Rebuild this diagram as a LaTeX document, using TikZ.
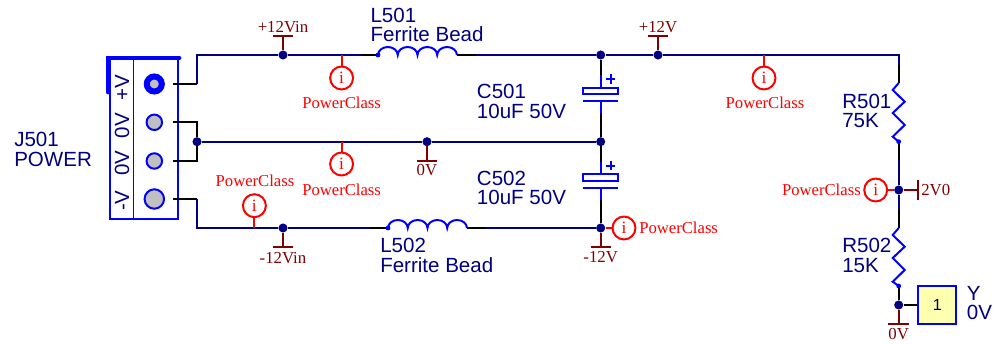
\documentclass[tikz,border=0pt]{standalone}
\usepackage{fontspec}
\usepackage{xcolor}
\setmainfont{Liberation Sans}
\newfontfamily\netfont{Liberation Serif}
\definecolor{wirenavy}{HTML}{000080}
\definecolor{netred}{HTML}{800000}
\definecolor{partblue}{HTML}{0000FF}
\definecolor{padgray}{HTML}{C0C0C0}
\definecolor{boxyellow}{HTML}{FFFFB0}
\tikzset{
    wire/.style={draw=wirenavy, line width=1.5pt},
    stub/.style={draw=black, line width=1.5pt},
    part/.style={draw=partblue, line width=1.5pt},
    netline/.style={draw=netred, line width=1.5pt},
    probeline/.style={draw=red, line width=1.5pt},
    junction/.style={circle, fill=wirenavy, inner sep=0pt, minimum size=6.8pt},
    partdot/.style={circle, fill=partblue, inner sep=0pt, minimum size=3.6pt},
    pad/.style={circle, draw=partblue, fill=padgray, line width=1.5pt, inner sep=0pt},
    probe/.style={circle, draw=red, line width=1.5pt, inner sep=0pt, minimum size=17.2pt, text=red, font=\netfont\fontsize{13}{13}\selectfont},
    partlabel/.style={text=wirenavy, anchor=west, align=left, inner sep=0pt, font=\fontsize{15.4}{14.6}\selectfont},
    netlabel/.style={text=netred, inner sep=0pt, font=\netfont\fontsize{12.6}{13}\selectfont},
    classlabel/.style={text=red, inner sep=0pt, font=\netfont\fontsize{12.5}{13}\selectfont},
    pinlabel/.style={text=wirenavy, rotate=90, inner sep=0pt, font=\fontsize{15.4}{15}\selectfont},
}
\begin{document}
\begin{tikzpicture}[x=0.75pt, y=-0.75pt]
    \useasboundingbox (0,0) rectangle (995,345);

    % connector J501
    \draw[draw=partblue, line width=1.1pt] (110,58) rectangle (178,219);
    \draw[draw=partblue, line width=1.1pt] (133.7,58) -- (133.7,219);
    \draw[draw=partblue, line width=3.6pt, line cap=round] (108,92) -- (108,58) -- (179,58);
    \node[pad, minimum size=11.25pt, line width=4.5pt] (pina) at (154.3,84) {};
    \node[pad, minimum size=11.6pt] (pinb) at (154.3,122.3) {};
    \node[pad, minimum size=11.6pt] (pinc) at (154.3,161) {};
    \node[pad, minimum size=14.6pt] (pind) at (154.3,199) {};
    \node[pinlabel] at (122,88) {+V};
    \node[pinlabel] at (122,125.7) {0V};
    \node[pinlabel] at (122,163) {0V};
    \node[pinlabel] at (122,200.7) {-V};
    \node[partlabel] (jlabel) at (14,149.5) {J501\\POWER};

    % junctions
    \node[junction] (jtopa) at (283,55) {};
    \node[junction] (jtopb) at (600.7,55) {};
    \node[junction] (jtopc) at (658,55) {};
    \node[junction] (jmida) at (197,141.7) {};
    \node[junction] (jmidb) at (427,141.7) {};
    \node[junction] (jmidc) at (600.7,141.7) {};
    \node[junction] (jlowa) at (283,228) {};
    \node[junction] (jlowb) at (600.7,228) {};
    \node[junction] (jdiv) at (898.7,190) {};
    \node[junction] (jout) at (898.7,305) {};

    % pin wiring
    \coordinate (pa) at (173,84);
    \coordinate (pb) at (173,122.3);
    \coordinate (pc) at (173,161);
    \coordinate (pd) at (173,199);
    \coordinate (ca) at (197,84);
    \coordinate (cb) at (197,122.3);
    \coordinate (cc) at (197,161);
    \coordinate (cd) at (197,199);
    \coordinate (topleft) at (197,55);
    \coordinate (lowleft) at (197,228);
    \coordinate (topright) at (898.7,55);
    \draw[stub] (pa) -- (ca);
    \draw[stub] (pb) -- (cb) -- (jmida);
    \draw[stub] (pc) -- (cc) -- (jmida);
    \draw[stub] (pd) -- (cd);
    \draw[wire] (ca) -- (topleft) -- (jtopa);
    \draw[wire] (cd) -- (lowleft) -- (jlowa);

    % L501
    \coordinate (laa) at (360.7,55);
    \coordinate (lab) at (378,55);
    \coordinate (lac) at (457,55);
    \coordinate (lad) at (475.7,55);
    \draw[wire] (jtopa) -- (laa);
    \draw[stub] (laa) -- (lab);
    \draw[part] (lab) arc[start angle=180, end angle=0, x radius=7.4pt, y radius=6pt]
        arc[start angle=180, end angle=0, x radius=7.4pt, y radius=6pt]
        arc[start angle=180, end angle=0, x radius=7.4pt, y radius=6pt]
        arc[start angle=180, end angle=0, x radius=7.4pt, y radius=6pt];
    \node[partdot] (ladot) at (lab) {};
    \draw[stub] (lac) -- (lad);
    \draw[wire] (lad) -- (jtopb);
    \draw[wire] (jtopb) -- (jtopc);
    \node[partlabel] (lalabel) at (370.3,25) {L501\\Ferrite Bead};

    % L502
    \coordinate (lba) at (370,228);
    \coordinate (lbb) at (388,228);
    \coordinate (lbc) at (467,228);
    \coordinate (lbd) at (485,228);
    \draw[wire] (jlowa) -- (lba);
    \draw[stub] (lba) -- (lbb);
    \draw[part] (lbb) arc[start angle=180, end angle=0, x radius=7.4pt, y radius=6pt]
        arc[start angle=180, end angle=0, x radius=7.4pt, y radius=6pt]
        arc[start angle=180, end angle=0, x radius=7.4pt, y radius=6pt]
        arc[start angle=180, end angle=0, x radius=7.4pt, y radius=6pt];
    \node[partdot] (lbdot) at (lbb) {};
    \draw[stub] (lbc) -- (lbd);
    \draw[wire] (lbd) -- (jlowb);
    \node[partlabel] (lblabel) at (380,255.5) {L502\\Ferrite Bead};

    % middle rail
    \draw[wire] (jmida) -- (jmidb);
    \draw[wire] (jmidb) -- (jmidc);

    % C501
    \coordinate (caa) at (600.7,75);
    \coordinate (cab) at (600.7,87.7);
    \coordinate (cac) at (600.7,101);
    \coordinate (cad) at (600.7,113);
    \draw[stub] (jtopb) -- (caa);
    \draw[part] (caa) -- (cab);
    \draw[part] (cac) -- (cad);
    \draw[stub] (cad) -- (jmidc);
    \draw[part] (583,87.7) rectangle (618,94);
    \draw[part] (583,101) -- (618,101);
    \draw[part] (606,79) -- (615.4,79) (610.7,74.3) -- (610.7,83.7);
    \node[partlabel] (calabel) at (476.7,101.3) {C501\\10uF 50V};

    % C502
    \coordinate (cba) at (600.7,161.7);
    \coordinate (cbb) at (600.7,174.4);
    \coordinate (cbc) at (600.7,187.7);
    \coordinate (cbd) at (600.7,200);
    \draw[stub] (jmidc) -- (cba);
    \draw[part] (cba) -- (cbb);
    \draw[part] (cbc) -- (cbd);
    \draw[stub] (cbd) -- (jlowb);
    \draw[part] (583,174.4) rectangle (618,180.7);
    \draw[part] (583,187.7) -- (618,187.7);
    \draw[part] (606,165.7) -- (615.4,165.7) (610.7,161) -- (610.7,170.4);
    \node[partlabel] (cblabel) at (476.7,187.7) {C502\\10uF 50V};

    % right branch
    \coordinate (raa) at (898.7,65);
    \coordinate (rab) at (898.7,83);
    \coordinate (rac) at (898.7,141.7);
    \coordinate (rad) at (898.7,160);
    \coordinate (rba) at (898.7,210);
    \coordinate (rbb) at (898.7,228);
    \coordinate (rbc) at (898.7,286);
    \draw[wire] (jtopc) -- (topright) -- (raa);
    \draw[stub] (raa) -- (rab);
    \draw[stub] (rac) -- (rad);
    \draw[part] (rab) -- ++(-6,7) -- ++(12,11.7) -- ++(-12,11.3) -- ++(12,12) -- ++(-12,11.7) -- (rac);
    \node[partdot] (radot) at (rac) {};
    \draw[wire] (rad) -- (jdiv);
    \draw[wire] (jdiv) -- (rba);
    \draw[stub] (rba) -- (rbb);
    \draw[stub] (rbc) -- (jout);
    \draw[part] (rbb) -- ++(-6,7) -- ++(12,11.7) -- ++(-12,11.3) -- ++(12,12) -- ++(-12,11.7) -- (rbc);
    \node[partdot] (rbdot) at (rbc) {};
    \node[partlabel] (ralabel) at (842,111.2) {R501\\75K};
    \node[partlabel] (rblabel) at (842,255.5) {R502\\15K};

    % test point
    \node[draw=partblue, fill=boxyellow, line width=1.5pt, minimum size=28.5pt, inner sep=0pt, font=\fontsize{12}{12}\selectfont] (tp) at (937.3,305) {1};
    \draw[stub] (jout) -- (tp);
    \node[partlabel] (tplabel) at (966.7,303) {Y\\0V};

    % net flags
    \coordinate (fa) at (283,36);
    \draw[netline] (jtopa) -- (fa) ++(-10,0) -- ++(20,0);
    \node[netlabel] (fatext) at (283,27) {+12Vin};
    \coordinate (fb) at (658,36);
    \draw[netline] (jtopc) -- (fb) ++(-10,0) -- ++(20,0);
    \node[netlabel] (fbtext) at (658,27) {+12V};
    \coordinate (fc) at (427,161);
    \draw[netline] (jmidb) -- (fc) ++(-10,0) -- ++(20,0);
    \node[netlabel] (fctext) at (427,170) {0V};
    \coordinate (fd) at (283,247);
    \draw[netline] (jlowa) -- (fd) ++(-10,0) -- ++(20,0);
    \node[netlabel] (fdtext) at (283,258) {-12Vin};
    \coordinate (fe) at (600.7,247);
    \draw[netline] (jlowb) -- (fe) ++(-10,0) -- ++(20,0);
    \node[netlabel] (fetext) at (600.7,257) {-12V};
    \coordinate (ff) at (918,190);
    \draw[netline] (jdiv) -- (ff) ++(0,-10) -- ++(0,20);
    \node[netlabel, anchor=west] (fftext) at (921,190) {2V0};
    \coordinate (fg) at (898.7,324);
    \draw[netline] (jout) -- (fg) ++(-10.5,0) -- ++(21,0);
    \node[netlabel] (fgtext) at (898.7,334) {0V};

    % probes
    \node[probe] (ia) at (341.6,78) {i};
    \coordinate (ita) at (341.6,55);
    \draw[probeline] (ita) -- (ia);
    \node[classlabel] (iatext) at (341.6,103) {PowerClass};
    \node[probe] (ib) at (341.6,164) {i};
    \coordinate (itb) at (341.6,141.7);
    \draw[probeline] (itb) -- (ib);
    \node[classlabel] (ibtext) at (341.6,190) {PowerClass};
    \node[probe] (ic) at (254.4,205.7) {i};
    \coordinate (itc) at (254.4,228);
    \draw[probeline] (itc) -- (ic);
    \node[classlabel] (ictext) at (255,180.7) {PowerClass};
    \node[probe] (id) at (624,228) {i};
    \draw[probeline] (jlowb) -- (id);
    \node[classlabel, anchor=west] (idtext) at (639,228) {PowerClass};
    \node[probe] (ie) at (764,78) {i};
    \coordinate (ite) at (764,55);
    \draw[probeline] (ite) -- (ie);
    \node[classlabel] (ietext) at (765,103) {PowerClass};
    \node[probe] (iff) at (875.7,190) {i};
    \draw[probeline] (jdiv) -- (iff);
    \node[classlabel, anchor=east] (ifftext) at (861,189.5) {PowerClass};
\end{tikzpicture}
\end{document}
